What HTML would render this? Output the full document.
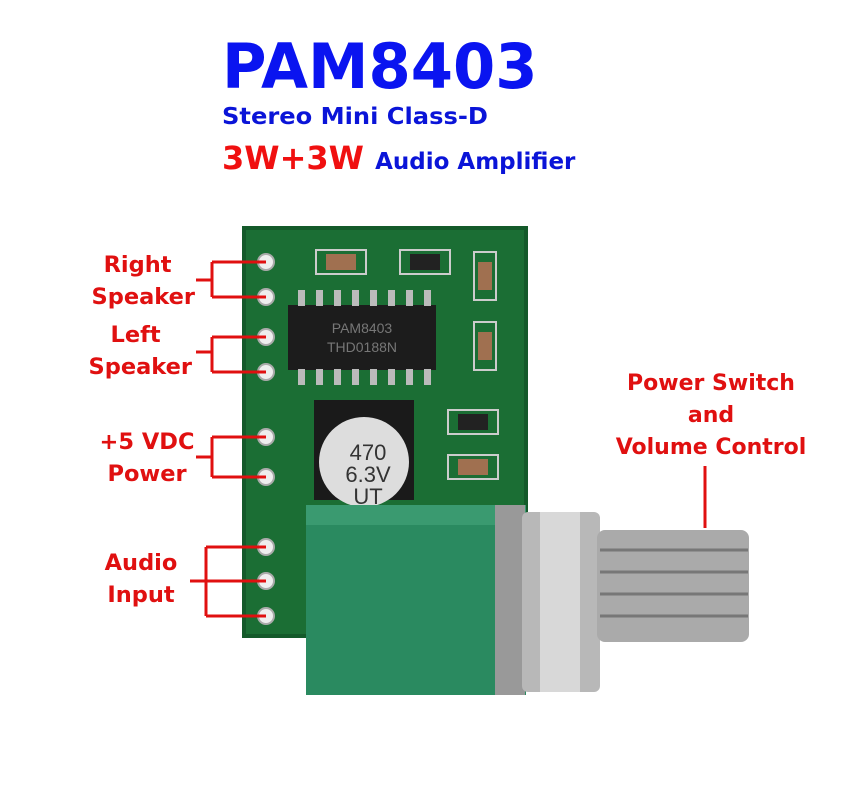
<!DOCTYPE html>
<html><head><style>
body{margin:0;background:#fff;width:841px;height:787px;overflow:hidden;position:relative;font-family:"DejaVu Sans","Liberation Sans",sans-serif}
.t{position:absolute;font-weight:bold;white-space:nowrap;transform-origin:0 0}
.lbl{position:absolute;color:#e01010;font-weight:bold;font-size:22.5px;text-align:center;line-height:32px;white-space:nowrap}
</style></head><body>
<div class="t" style="left:222px;top:30px;font-size:62px;color:#0a14f0;transform:scaleX(0.98)">PAM8403</div>
<div class="t" style="left:222px;top:104px;font-size:23px;color:#0a14d8;transform:scaleX(1.05)">Stereo Mini Class-D</div>
<div class="t" style="left:222px;top:139px;font-size:32px;color:#f01010;">3W+3W <span style="font-size:23px;color:#0a14d8">Audio Amplifier</span></div>

<div class="lbl" style="left:75px;top:249px;width:120px;text-align:right">Right&nbsp;&nbsp;&nbsp;<br>Speaker</div>
<div class="lbl" style="left:72px;top:319px;width:120px;text-align:right">Left&nbsp;&nbsp;&nbsp;&nbsp;<br>Speaker</div>
<div class="lbl" style="left:87px;top:426px;width:120px;text-align:center">+5 VDC<br>Power</div>
<div class="lbl" style="left:81px;top:547px;width:120px;text-align:center">Audio<br>Input</div>
<div class="lbl" style="left:600px;top:368px;width:222px;font-size:22px">Power Switch<br>and<br>Volume Control</div>

<svg width="841" height="787" style="position:absolute;left:0;top:0">
<rect x="242" y="226" width="286" height="412" fill="#145a2a"/>
<rect x="246" y="230" width="278" height="404" fill="#1b6e34"/>
<rect x="288" y="305" width="148" height="65" fill="#1c1c1c"/>
<g fill="#bbb">
<rect x="298" y="290" width="7" height="16"/><rect x="316" y="290" width="7" height="16"/><rect x="334" y="290" width="7" height="16"/><rect x="352" y="290" width="7" height="16"/><rect x="370" y="290" width="7" height="16"/><rect x="388" y="290" width="7" height="16"/><rect x="406" y="290" width="7" height="16"/><rect x="424" y="290" width="7" height="16"/>
<rect x="298" y="369" width="7" height="16"/><rect x="316" y="369" width="7" height="16"/><rect x="334" y="369" width="7" height="16"/><rect x="352" y="369" width="7" height="16"/><rect x="370" y="369" width="7" height="16"/><rect x="388" y="369" width="7" height="16"/><rect x="406" y="369" width="7" height="16"/><rect x="424" y="369" width="7" height="16"/>
</g>
<text x="362" y="333" fill="#777" font-size="14" text-anchor="middle" font-family="Liberation Sans">PAM8403</text>
<text x="362" y="352" fill="#777" font-size="14" text-anchor="middle" font-family="Liberation Sans">THD0188N</text>
<rect x="316" y="250" width="50" height="24" fill="none" stroke="#ccc" stroke-width="2"/><rect x="326" y="254" width="30" height="16" fill="#a07050"/>
<rect x="400" y="250" width="50" height="24" fill="none" stroke="#ccc" stroke-width="2"/><rect x="410" y="254" width="30" height="16" fill="#222"/>
<rect x="474" y="252" width="22" height="48" fill="none" stroke="#ccc" stroke-width="2"/><rect x="478" y="262" width="14" height="28" fill="#a07050"/>
<rect x="474" y="322" width="22" height="48" fill="none" stroke="#ccc" stroke-width="2"/><rect x="478" y="332" width="14" height="28" fill="#a07050"/>
<rect x="448" y="410" width="50" height="24" fill="none" stroke="#ccc" stroke-width="2"/><rect x="458" y="414" width="30" height="16" fill="#222"/>
<rect x="448" y="455" width="50" height="24" fill="none" stroke="#ccc" stroke-width="2"/><rect x="458" y="459" width="30" height="16" fill="#a07050"/>
<rect x="314" y="400" width="100" height="100" fill="#1a1a1a"/>
<circle cx="364" cy="462" r="45" fill="#ddd"/>
<text x="368" y="460" font-size="22" text-anchor="middle" fill="#333" font-family="Liberation Sans">470</text>
<text x="368" y="482" font-size="22" text-anchor="middle" fill="#333" font-family="Liberation Sans">6.3V</text>
<text x="368" y="504" font-size="22" text-anchor="middle" fill="#333" font-family="Liberation Sans">UT</text>
<g fill="#eee" stroke="#aaa" stroke-width="2">
<circle cx="266" cy="262" r="8"/><circle cx="266" cy="297" r="8"/><circle cx="266" cy="337" r="8"/><circle cx="266" cy="372" r="8"/><circle cx="266" cy="437" r="8"/><circle cx="266" cy="477" r="8"/><circle cx="266" cy="547" r="8"/><circle cx="266" cy="581" r="8"/><circle cx="266" cy="616" r="8"/>
</g>
<rect x="306" y="505" width="220" height="190" fill="#2a8a60"/>
<rect x="306" y="505" width="220" height="20" fill="#3a9a70"/>
<rect x="495" y="505" width="30" height="190" fill="#999"/>
<rect x="522" y="512" width="78" height="180" rx="6" fill="#b8b8b8"/>
<rect x="540" y="512" width="40" height="180" fill="#d8d8d8"/>
<rect x="597" y="530" width="152" height="112" rx="8" fill="#aaa"/>
<g stroke="#777" stroke-width="3"><line x1="600" y1="550" x2="748" y2="550"/><line x1="600" y1="572" x2="748" y2="572"/><line x1="600" y1="594" x2="748" y2="594"/><line x1="600" y1="616" x2="748" y2="616"/></g>
<g stroke="#e01010" stroke-width="3" fill="none">
<path d="M196 280H212M212 262V297M212 262H266M212 297H266"/>
<path d="M196 352H212M212 337V372M212 337H266M212 372H266"/>
<path d="M196 457H212M212 437V477M212 437H266M212 477H266"/>
<path d="M190 581H206M206 547V616M206 547H266M206 581H266M206 616H266"/>
<path d="M705 466V528"/>
</g>
</svg>
</body></html>
